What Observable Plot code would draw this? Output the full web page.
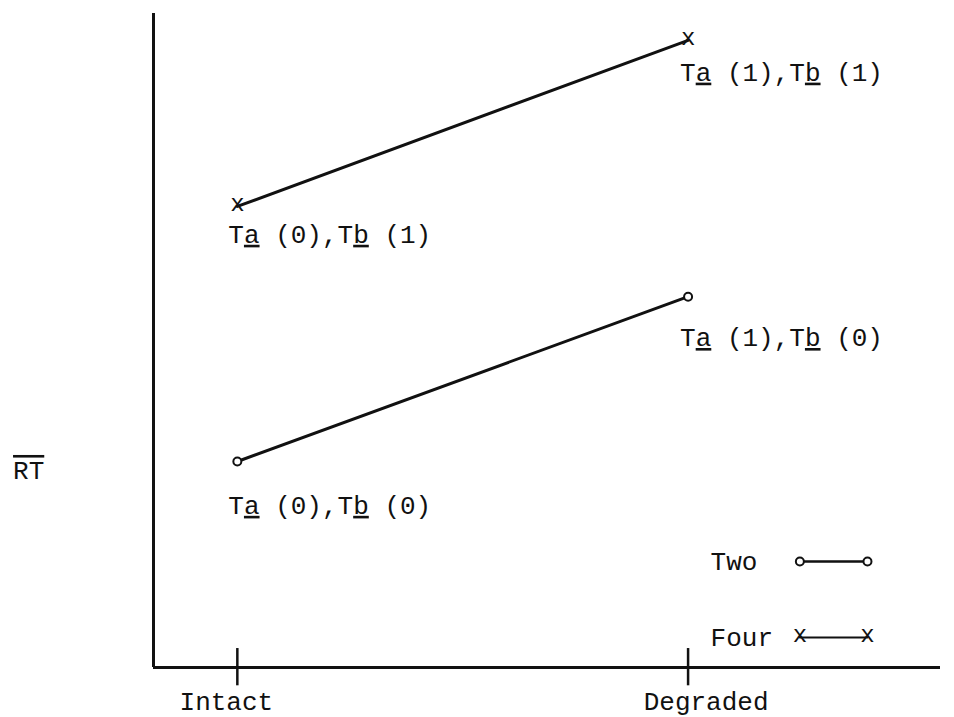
<!DOCTYPE html>
<html>
<head>
<meta charset="utf-8">
<script src="https://cdn.jsdelivr.net/npm/d3@7"></script>
<script src="https://cdn.jsdelivr.net/npm/@observablehq/plot@0.6"></script>
<style>
  html, body { margin: 0; padding: 0; background: #fff; }
  svg text { font-family: "Liberation Mono", "Courier New", monospace; }
</style>
</head>
<body>
<div id="chart"></div>
<script>
// ---- data ----
const conditions = [0, 1];                 // x positions of categories
const conditionLabels = ["Intact", "Degraded"];
const fourRT = [70.5, 95.9];               // "Four" series
const twoRT = [31.5, 56.7];                // "Two" series
const fourLabels = ["Ta (0),Tb (1)", "Ta (1),Tb (1)"];
const twoLabels = ["Ta (0),Tb (0)", "Ta (1),Tb (0)"];
const legendNames = ["Two", "Four"];
const legendY = [16.2, 4.6];
const legendX = [1.05, 1.248, 1.398];      // text start, line start, line end
const yLabel = "RT";

const four = conditions.map((c, i) => ({x: c, y: fourRT[i], label: fourLabels[i]}));
const two = conditions.map((c, i) => ({x: c, y: twoRT[i], label: twoLabels[i]}));

const xDomain = [-0.186, 1.56];
const yDomain = [0, 100];

const legendTwo = [{x: legendX[1], y: legendY[0]}, {x: legendX[2], y: legendY[0]}];
const legendFour = [{x: legendX[1], y: legendY[1]}, {x: legendX[2], y: legendY[1]}];

const font = "Liberation Mono, Courier New, monospace";

const plot = Plot.plot({
  width: 954,
  height: 717,
  marginLeft: 153,
  marginRight: 14,
  marginTop: 13,
  marginBottom: 50,
  style: {fontFamily: font, fontSize: "26px", color: "#111", background: "#fff"},
  x: {domain: xDomain, axis: null},
  y: {domain: yDomain, axis: null},
  marks: [
    // axes
    Plot.ruleY([0], {x1: xDomain[0], x2: xDomain[1], stroke: "#111", strokeWidth: 3}),
    Plot.ruleX([xDomain[0]], {y1: yDomain[0], y2: yDomain[1], stroke: "#111", strokeWidth: 3}),
    // crossing ticks
    Plot.ruleX(conditions, {y1: -2.8, y2: 2.9, stroke: "#111", strokeWidth: 2.5}),
    // tick labels
    Plot.text([conditions[0]], {x: d => d, y: 0, text: () => conditionLabels[0], dx: -11, dy: 34, fill: "#111", fontSize: 26}),
    Plot.text([conditions[1]], {x: d => d, y: 0, text: () => conditionLabels[1], dx: 18, dy: 34, fill: "#111", fontSize: 26}),
    // y label
    Plot.text([yLabel], {x: -0.463, y: 30.1, text: d => d, fill: "#111", fontSize: 26, className: "ylab"}),
    // series lines
    Plot.line(four, {x: "x", y: "y", stroke: "#111", strokeWidth: 3}),
    Plot.line(two, {x: "x", y: "y", stroke: "#111", strokeWidth: 3}),
    // markers
    Plot.text(four, {x: "x", y: "y", text: () => "x", fill: "#111", fontSize: 24, dy: -3}),
    Plot.dot(two, {x: "x", y: "y", r: 4, stroke: "#111", strokeWidth: 2, fill: "#fff"}),
    // point labels
    Plot.text([four[0]], {x: "x", y: "y", text: "label", textAnchor: "start", dx: -9, dy: 28, fill: "#111", fontSize: 26, className: "ptlab"}),
    Plot.text([four[1]], {x: "x", y: "y", text: "label", textAnchor: "start", dx: -8, dy: 32, fill: "#111", fontSize: 26, className: "ptlab"}),
    Plot.text([two[0]], {x: "x", y: "y", text: "label", textAnchor: "start", dx: -9, dy: 44, fill: "#111", fontSize: 26, className: "ptlab"}),
    Plot.text([two[1]], {x: "x", y: "y", text: "label", textAnchor: "start", dx: -8, dy: 41, fill: "#111", fontSize: 26, className: "ptlab"}),
    // legend
    Plot.text(legendNames, {x: legendX[0], y: (d, i) => legendY[i], text: d => d, textAnchor: "start", fill: "#111", fontSize: 26}),
    Plot.line(legendTwo, {x: "x", y: "y", stroke: "#111", strokeWidth: 2.5}),
    Plot.dot(legendTwo, {x: "x", y: "y", r: 4, stroke: "#111", strokeWidth: 2, fill: "#fff"}),
    Plot.line(legendFour, {x: "x", y: "y", stroke: "#111", strokeWidth: 2}),
    Plot.text(legendFour, {x: "x", y: "y", text: () => "x", fill: "#111", fontSize: 24, dy: -3})
  ]
});

document.getElementById("chart").appendChild(plot);

// underline the "a" and "b" in the labels
d3.select(plot).selectAll(".ptlab text").each(function() {
  const t = d3.select(this);
  const s = t.text();
  t.text(null);
  const parts = s.match(/^(T)(a)(.*?,T)(b)(.*)$/);
  if (!parts) { t.text(s); return; }
  [[parts[1], false], [parts[2], true], [parts[3], false], [parts[4], true], [parts[5], false]].forEach(([str, ul]) => {
    const ts = t.append("tspan").text(str);
    if (ul) ts.style("text-decoration", "underline");
  });
});
d3.select(plot).selectAll(".ylab text").style("text-decoration", "overline");
</script>
</body>
</html>
